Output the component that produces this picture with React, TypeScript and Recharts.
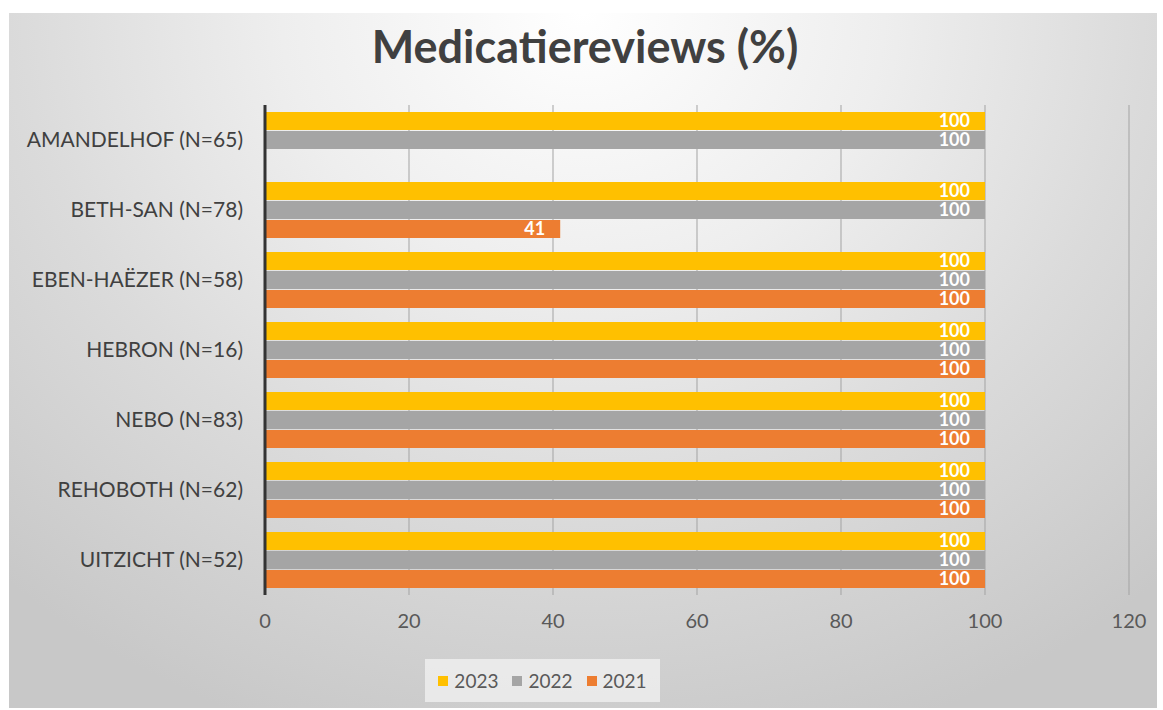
import { BarChart, Bar, XAxis, YAxis, CartesianGrid, LabelList } from "recharts";

const categories = [
  "AMANDELHOF (N=65)",
  "BETH-SAN (N=78)",
  "EBEN-HAËZER (N=58)",
  "HEBRON (N=16)",
  "NEBO (N=83)",
  "REHOBOTH (N=62)",
  "UITZICHT (N=52)",
];
const years = ["2023", "2022", "2021"];
const values2023 = [100, 100, 100, 100, 100, 100, 100];
const values2022 = [100, 100, 100, 100, 100, 100, 100];
const values2021 = [0, 41, 100, 100, 100, 100, 100];
const xTicks = [0, 20, 40, 60, 80, 100, 120];

const COLORS: Record<string, string> = {
  "2023": "#FFC000",
  "2022": "#A5A5A5",
  "2021": "#ED7D31",
};

const FONT = "Lato, 'Open Sans', sans-serif";

const rows = categories.map((name, i) => ({
  name,
  "2023": values2023[i],
  "2022": values2022[i],
  "2021": values2021[i],
}));

// Excel-style inside-end label; zero bars get the label just past the axis
function renderValue(props: any) {
  const { x, y, width, height, value } = props;
  const zero = !value;
  return (
    <text
      x={zero ? x + 15 : x + width - 15}
      y={y + height / 2}
      dy="0.36em"
      textAnchor={zero ? "start" : "end"}
      fill="#fff"
      fontSize={18}
      fontWeight={700}
      fontFamily={FONT}
    >
      {value}
    </text>
  );
}

export default function App() {
  return (
    <div style={{ position: "absolute", left: 0, top: 0, width: 1163, height: 710, background: "#fff", fontFamily: FONT }}>
      <div
        style={{
          position: "absolute",
          left: 9,
          top: 13,
          width: 1148,
          height: 695,
          background:
            "radial-gradient(ellipse 75% 110% at 50% 0%, #ffffff 0%, #eeeeee 35%, #dbdbdb 65%, #c8c8c8 100%)",
        }}
      >
        <div
          style={{
            position: "absolute",
            left: 0,
            right: 0,
            top: 6,
            textAlign: "center",
            fontSize: 45,
            fontWeight: 700,
            color: "#404040",
            paddingLeft: 4,
          }}
        >
          Medicatiereviews (%)
        </div>
        <BarChart
          width={1148}
          height={695}
          layout="vertical"
          data={rows}
          margin={{ top: 92, right: 28, bottom: 83, left: 6 }}
          barSize={18}
          barGap={1}
        >
          <CartesianGrid horizontal={false} stroke="#a3a3a3" />
          <XAxis
            type="number"
            domain={[0, 120]}
            ticks={xTicks}
            axisLine={false}
            tickLine={false}
            tickSize={0}
            tickMargin={19}
            height={30}
            tick={{ fontSize: 20, fill: "#595959", fontFamily: FONT }}
          />
          <YAxis
            type="category"
            dataKey="name"
            width={250}
            axisLine={{ stroke: "#333", strokeWidth: 3 }}
            tickLine={false}
            tickSize={0}
            tickMargin={22}
            tick={{ fontSize: 21, fill: "#404040", fontFamily: FONT }}
          />
          {years.map((yr) => (
            <Bar key={yr} dataKey={yr} fill={COLORS[yr]} isAnimationActive={false}>
              <LabelList dataKey={yr} content={renderValue} />
            </Bar>
          ))}
        </BarChart>
        <div
          style={{
            position: "absolute",
            left: 416,
            top: 646,
            width: 235,
            height: 43,
            background: "rgba(245,245,245,0.7)",
            display: "flex",
            alignItems: "center",
            justifyContent: "center",
            gap: 14,
            fontSize: 19,
            color: "#595959",
          }}
        >
          {years.map((yr) => (
            <span key={yr} style={{ display: "flex", alignItems: "center", gap: 6 }}>
              <span style={{ width: 10, height: 10, background: COLORS[yr], display: "inline-block" }} />
              {yr}
            </span>
          ))}
        </div>
      </div>
    </div>
  );
}
